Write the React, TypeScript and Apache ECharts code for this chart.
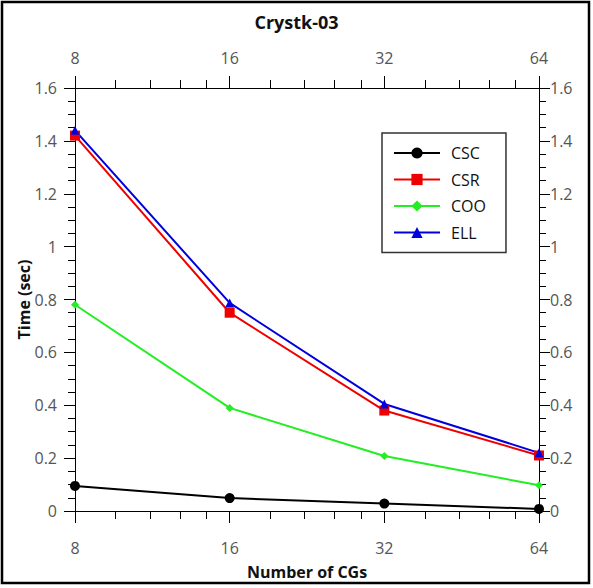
import React, { useEffect, useRef } from "react";
import * as echarts from "echarts";

const cgs = [8, 16, 32, 64];
const cscTimes = [0.095, 0.049, 0.028, 0.008];
const csrTimes = [1.42, 0.75, 0.38, 0.21];
const cooTimes = [0.78, 0.39, 0.208, 0.097];
const ellTimes = [1.44, 0.787, 0.405, 0.22];
const yTickValues = [0, 0.2, 0.4, 0.6, 0.8, 1, 1.2, 1.4, 1.6];
const minorFractions = [1.2, 1.4, 1.6, 1.8];

const FONT = "'Open Sans', 'DejaVu Sans', sans-serif";

export default function App() {
  const ref = useRef<HTMLDivElement>(null);
  useEffect(() => {
    if (!ref.current) return;
    const chart = echarts.init(ref.current, null, { renderer: "svg" });
    const xs = cgs.map((c) => Math.log2(c));
    const minorX: number[] = [];
    for (let i = 0; i < cgs.length - 1; i++) {
      minorFractions.forEach((f) => minorX.push(Math.log2(cgs[i] * f)));
    }
    const toData = (arr: number[]) => arr.map((v, i) => [xs[i], v]);
    const xMin = xs[0];
    const xMax = xs[xs.length - 1];
    const labelStyle = { color: "#555", fontSize: 16, fontFamily: FONT };
    const lineStyle = { color: "#000", width: 1 };
    const mainX = (pos: "top" | "bottom", margin: number, withName: boolean) => ({
      type: "value",
      position: pos,
      min: xMin,
      max: xMax,
      interval: 1,
      axisLine: { show: true, onZero: false, lineStyle },
      axisTick: { show: true, length: 12, lineStyle },
      axisLabel: {
        ...labelStyle,
        margin,
        formatter: (v: number) => String(Math.round(Math.pow(2, v))),
      },
      splitLine: { show: false },
      name: withName ? "Number of CGs" : "",
      nameLocation: "middle",
      nameGap: 53,
      nameMoveOverlap: false,
      nameTextStyle: { color: "#111", fontSize: 16, fontWeight: "bold", fontFamily: FONT },
    });
    const minorXAxis = (pos: "top" | "bottom") => ({
      type: "value",
      position: pos,
      min: xMin,
      max: xMax,
      axisLine: { show: false, onZero: false },
      axisTick: { show: true, length: 8, lineStyle, customValues: minorX },
      axisLabel: { show: false },
      splitLine: { show: false },
    });
    const yAxis = (pos: "left" | "right", margin: number, withName: boolean) => ({
      type: "value",
      position: pos,
      min: 0,
      max: 1.6,
      interval: 0.2,
      axisLine: { show: true, onZero: false, lineStyle },
      axisTick: { show: true, length: 11, lineStyle },
      minorTick: { show: true, splitNumber: 4, length: 7, lineStyle },
      axisLabel: {
        ...labelStyle,
        margin,
        formatter: (v: number) => {
          const t = yTickValues.find((y) => Math.abs(y - v) < 1e-6);
          return String(t !== undefined ? t : v);
        },
      },
      splitLine: { show: false },
      name: withName ? "Time (sec)" : "",
      nameLocation: "middle",
      nameGap: 43,
      nameMoveOverlap: false,
      nameTextStyle: { color: "#111", fontSize: 16, fontWeight: "bold", fontFamily: FONT },
    });
    const mk = (name: string, data: number[], color: string, symbol: string, size: number) => ({
      name,
      type: "line",
      xAxisIndex: 0,
      yAxisIndex: 0,
      data: toData(data),
      symbol,
      symbolSize: size,
      showAllSymbol: true,
      lineStyle: { color, width: 2 },
      itemStyle: { color },
    });
    chart.setOption({
      animation: false,
      backgroundColor: "#fff",
      title: {
        text: "Crystk-03",
        left: "center",
        top: 8,
        textStyle: { color: "#111", fontSize: 18, fontWeight: "bold", fontFamily: FONT },
      },
      grid: { left: 75, right: 54, top: 88, bottom: 77, containLabel: false },
      xAxis: [mainX("bottom", 29, true), mainX("top", 22, false), minorXAxis("bottom"), minorXAxis("top")],
      yAxis: [yAxis("left", 18, true), yAxis("right", 11, false)],
      legend: {
        orient: "vertical",
        left: 382,
        top: 133,
        backgroundColor: "#fff",
        borderColor: "#333",
        borderWidth: 1.5,
        padding: [12, 20, 12, 11],
        itemWidth: 46,
        itemHeight: 14,
        itemGap: 10.5,
        textStyle: { color: "#111", fontSize: 16, fontFamily: FONT, padding: [0, 0, 0, 6] },
        data: ["CSC", "CSR", "COO", "ELL"],
      },
      graphic: [
        {
          type: "rect",
          shape: { x: 2, y: 2, width: 587, height: 581 },
          style: { fill: "none", stroke: "#000", lineWidth: 2.5 },
          silent: true,
        },
      ],
      series: [
        mk("CSC", cscTimes, "#000000", "circle", 10),
        mk("CSR", csrTimes, "#ee0000", "rect", 10),
        mk("COO", cooTimes, "#22ee22", "diamond", 8),
        mk("ELL", ellTimes, "#0000dd", "triangle", 9),
      ],
    });
    return () => chart.dispose();
  }, []);
  return (
    <div
      ref={ref}
      style={{ position: "fixed", left: 0, top: 0, width: 593, height: 588, background: "#fff" }}
    />
  );
}
